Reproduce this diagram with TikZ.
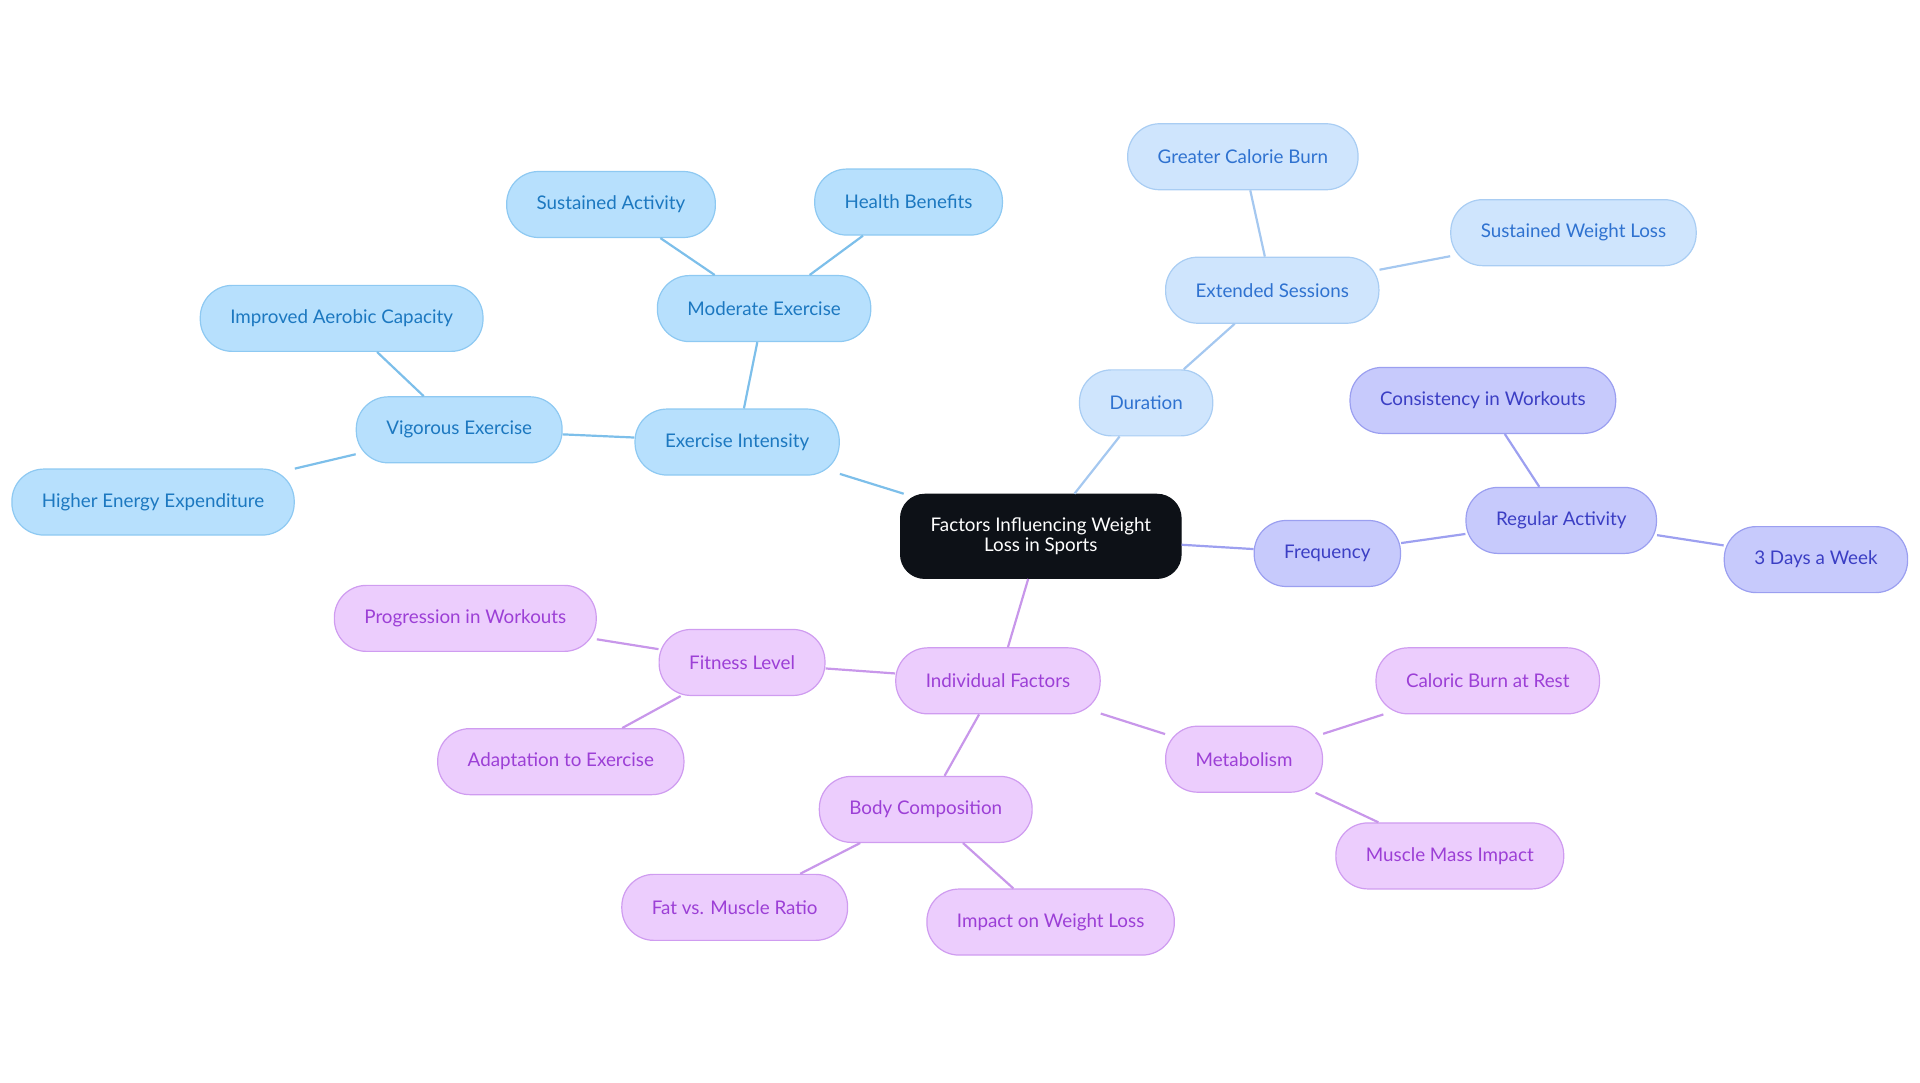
\documentclass[tikz,border=0pt]{standalone}
\usepackage{fontspec}
\setmainfont{Lato}
\usepackage{tikz}
\usepackage{color}

\definecolor{rootfill}{HTML}{0D1117}
\definecolor{bluefill}{HTML}{B7E0FD}
\definecolor{blueline}{HTML}{8EC9F2}
\definecolor{bluetext}{HTML}{1C78C0}
\definecolor{blueedge}{HTML}{7DBFEA}
\definecolor{skyfill}{HTML}{CFE5FD}
\definecolor{skyline}{HTML}{A9CDF3}
\definecolor{skytext}{HTML}{2F72D0}
\definecolor{skyedge}{HTML}{A5C8F0}
\definecolor{violetfill}{HTML}{C7CAFC}
\definecolor{violetline}{HTML}{9B9FF0}
\definecolor{violettext}{HTML}{3B3EC4}
\definecolor{violetedge}{HTML}{9DA0F0}
\definecolor{pinkfill}{HTML}{ECCDFD}
\definecolor{pinkline}{HTML}{CF9CF0}
\definecolor{pinktext}{HTML}{9C3FD6}
\definecolor{pinkedge}{HTML}{C897EA}

\begin{document}
\begin{tikzpicture}[x=0.61224pt,y=-0.61224pt,
    main node/.style={rectangle,draw,rounded corners=16pt,line width=0.6pt,minimum height=33pt,inner xsep=15pt,font=\fontsize{9.4}{10}\selectfont},
    root node/.style={main node,fill=rootfill,draw=rootfill,text=white,rounded corners=12pt,minimum height=42pt,align=center},
    blue node/.style={main node,fill=bluefill,draw=blueline,text=bluetext},
    sky node/.style={main node,fill=skyfill,draw=skyline,text=skytext},
    violet node/.style={main node,fill=violetfill,draw=violetline,text=violettext},
    pink node/.style={main node,fill=pinkfill,draw=pinkline,text=pinktext},
    blue edge/.style={draw=blueedge,line width=1.1pt},
    sky edge/.style={draw=skyedge,line width=1.1pt},
    violet edge/.style={draw=violetedge,line width=1.1pt},
    pink edge/.style={draw=pinkedge,line width=1.1pt}]
    \useasboundingbox (0,0) rectangle (1568,884.4);

    \node[root node] (root) at (850,438) {Factors Influencing Weight\\Loss in Sports};

    \node[blue node] (exint) at (602,361) {Exercise Intensity};
    \node[blue node] (modex) at (624,252) {Moderate Exercise};
    \node[blue node] (sustact) at (499,167) {Sustained Activity};
    \node[blue node] (health) at (742,165) {Health Benefits};
    \node[blue node] (vigex) at (375,351) {Vigorous Exercise};
    \node[blue node] (aerobic) at (279,260) {Improved Aerobic Capacity};
    \node[blue node] (energy) at (125,410) {Higher Energy Expenditure};

    \node[sky node] (dur) at (936,329) {Duration};
    \node[sky node] (extsess) at (1039,237) {Extended Sessions};
    \node[sky node] (calburn) at (1015,128) {Greater Calorie Burn};
    \node[sky node] (sustwl) at (1285,190) {Sustained Weight Loss};

    \node[violet node] (freq) at (1084,452) {Frequency};
    \node[violet node] (regact) at (1275,425) {Regular Activity};
    \node[violet node] (consist) at (1211,327) {Consistency in Workouts};
    \node[violet node] (days) at (1483,457) {3 Days a Week};

    \node[pink node] (indiv) at (815,556) {Individual Factors};
    \node[pink node] (fitness) at (606,541) {Fitness Level};
    \node[pink node] (progress) at (380,505) {Progression in Workouts};
    \node[pink node] (adapt) at (458,622) {Adaptation to Exercise};
    \node[pink node] (metab) at (1016,620) {Metabolism};
    \node[pink node] (restburn) at (1215,556) {Caloric Burn at Rest};
    \node[pink node] (muscle) at (1184,699) {Muscle Mass Impact};
    \node[pink node] (bodycomp) at (756,661) {Body Composition};
    \node[pink node] (fatratio) at (600,741) {Fat vs. Muscle Ratio};
    \node[pink node] (impact) at (858,753) {Impact on Weight Loss};

    \path[blue edge] (root) edge (exint) (exint) edge (modex) (exint) edge (vigex)
        (modex) edge (sustact) (modex) edge (health)
        (vigex) edge (aerobic) (vigex) edge (energy);
    \path[sky edge] (root) edge (dur) (dur) edge (extsess)
        (extsess) edge (calburn) (extsess) edge (sustwl);
    \path[violet edge] (root) edge (freq) (freq) edge (regact)
        (regact) edge (consist) (regact) edge (days);
    \path[pink edge] (root) edge (indiv) (indiv) edge (fitness) (indiv) edge (metab) (indiv) edge (bodycomp)
        (fitness) edge (progress) (fitness) edge (adapt)
        (metab) edge (restburn) (metab) edge (muscle)
        (bodycomp) edge (fatratio) (bodycomp) edge (impact);
\end{tikzpicture}
\end{document}
